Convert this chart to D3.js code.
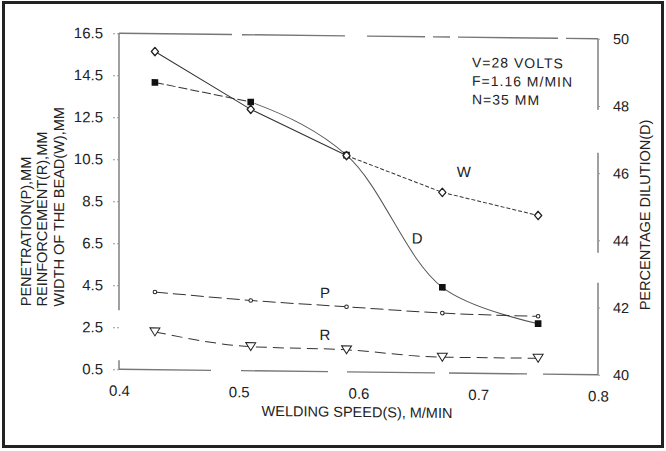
<!DOCTYPE html>
<html>
<head>
<meta charset="utf-8">
<script src="https://cdn.jsdelivr.net/npm/d3@7"></script>
<style>
  html, body { margin: 0; padding: 0; background: #fff; }
  svg { display: block; }
  text { font-family: "Liberation Sans", Arial, Helvetica, sans-serif; fill: #222; }
</style>
</head>
<body>
<svg id="chart" width="666" height="451"></svg>
<script>
// Welding speed (M/MIN) for the five test runs
const speed = [0.43, 0.51, 0.59, 0.67, 0.75];
// Bead geometry, left axis (MM)
const widthW = [15.65, 12.95, 10.8, 9.1, 8.05];
const penetrationP = [4.2, 3.85, 3.6, 3.35, 3.25];
const reinforcementR = [2.3, 1.65, 1.55, 1.25, 1.25];
// Percentage dilution, right axis
const dilutionD = [48.55, 48.0, 46.45, 42.55, 41.5];

const xTicks = [0.4, 0.5, 0.6, 0.7, 0.8];
const leftTicks = [0.5, 2.5, 4.5, 6.5, 8.5, 10.5, 12.5, 14.5, 16.5];
const rightTicks = [40, 42, 44, 46, 48, 50];
const notes = ["V=28 VOLTS", "F=1.16 M/MIN", "N=35 MM"];

const svg = d3.select("#chart");
const W = 666, H = 451;
const plot = { left: 119, right: 598, top: 36, bottom: 372 };

svg.append("rect").attr("width", W).attr("height", H).attr("fill", "#fff");
// outer figure border
svg.append("rect").attr("x", 3.5).attr("y", 2.5).attr("width", 659).attr("height", 444)
  .attr("fill", "none").attr("stroke", "#222").attr("stroke-width", 3);

const x = d3.scaleLinear().domain([0.4, 0.8]).range([plot.left, plot.right]);
const yL = d3.scaleLinear().domain([0.5, 16.5]).range([plot.bottom, plot.top]);
const yR = d3.scaleLinear().domain([40, 50]).range([plot.bottom, plot.top]);

// whole chart sits very slightly tilted on the page
const cx = 358, cy = 204;
const g = svg.append("g")
  .attr("transform", `translate(${cx},${cy}) skewY(0.65) translate(${-cx},${-cy})`);

// frame: broken grey rule segments
const frame = g.append("g").attr("stroke", "#777").attr("stroke-width", 1.4).attr("fill", "none");
const topSegs = [[119, 232], [242, 345], [367, 425], [433, 450], [458, 558], [566, 598]];
const botSegs = [[119, 211], [241, 328], [347, 435], [449, 527], [543, 598]];
const leftSegs = [[36, 313], [363, 372]];
const rightSegs = [[36, 107], [150, 250], [280, 372]];
topSegs.forEach(s => frame.append("line").attr("x1", s[0]).attr("x2", s[1]).attr("y1", plot.top).attr("y2", plot.top));
botSegs.forEach(s => frame.append("line").attr("x1", s[0]).attr("x2", s[1]).attr("y1", plot.bottom).attr("y2", plot.bottom));
leftSegs.forEach(s => frame.append("line").attr("x1", plot.left).attr("x2", plot.left).attr("y1", s[0]).attr("y2", s[1]));
rightSegs.forEach(s => frame.append("line").attr("x1", plot.right).attr("x2", plot.right).attr("y1", s[0]).attr("y2", s[1]));

// axes (labels only, faint tick marks)
const axL = g.append("g").attr("transform", `translate(${plot.left},0)`)
  .call(d3.axisLeft(yL).tickValues(leftTicks).tickFormat(d3.format(".1f")).tickSize(6).tickPadding(10));
const axR = g.append("g").attr("transform", `translate(${plot.right},0)`)
  .call(d3.axisRight(yR).tickValues(rightTicks).tickFormat(d3.format("d")).tickSize(4).tickPadding(11));
const axB = g.append("g").attr("transform", `translate(0,${plot.bottom})`)
  .call(d3.axisBottom(x).tickValues(xTicks).tickFormat(d3.format(".1f")).tickSize(0).tickPadding(16));
[axL, axR, axB].forEach(a => {
  a.select(".domain").remove();
  a.selectAll(".tick line").attr("stroke", "#999").attr("stroke-dasharray", "2,2");
  a.selectAll("text").style("font-size", "15px").attr("fill", "#222");
});
axR.selectAll("text").style("font-size", "14.5px");
axB.selectAll(".tick line").remove();

// axis titles
g.append("text").attr("x", 357).attr("y", 417).attr("text-anchor", "middle")
  .style("font-size", "14.5px").text("WELDING SPEED(S), M/MIN");
const yTitles = ["PENETRATION(P),MM", "REINFORCEMENT(R),MM", "WIDTH OF THE BEAD(W),MM"];
const yTitleX = [31, 47, 64];
yTitles.forEach((t, i) => {
  g.append("text").attr("transform", `translate(${yTitleX[i]},310) rotate(-90)`)
    .style("font-size", "14.5px").text(t);
});
g.append("text").attr("transform", "translate(650,307) rotate(-90)")
  .style("font-size", "14.5px").text("PERCENTAGE DILUTION(D)");

// operating conditions
notes.forEach((t, i) => {
  g.append("text").attr("x", 472).attr("y", 66 + i * 18.5)
    .style("font-size", "14px").style("letter-spacing", "1px").text(t);
});

// series
const lineStroke = "#333";
function pts(vals, yScale) { return speed.map((s, i) => [x(s), yScale(vals[i])]); }
const straight = d3.line();
const smooth = d3.line().curve(d3.curveCatmullRom.alpha(0.5));
const gentle = d3.line().curve(d3.curveMonotoneX);

const pW = pts(widthW, yL), pD = pts(dilutionD, yR), pP = pts(penetrationP, yL), pR = pts(reinforcementR, yL);

// W: solid to the third run, then fine dashes
g.append("path").attr("d", straight(pW.slice(0, 3))).attr("fill", "none")
  .attr("stroke", lineStroke).attr("stroke-width", 1);
g.append("path").attr("d", straight(pW.slice(2))).attr("fill", "none")
  .attr("stroke", lineStroke).attr("stroke-width", 1).attr("stroke-dasharray", "4,2");
// D: smooth curve, dashed lead-in
g.append("path").attr("d", smooth(pD.slice(0, 2))).attr("fill", "none")
  .attr("stroke", lineStroke).attr("stroke-width", 1).attr("stroke-dasharray", "9,3");
g.append("path").attr("d", smooth(pD)).attr("fill", "none")
  .attr("stroke", "#555").attr("stroke-width", 1)
  .attr("stroke-dasharray", `0,${pD[1][0] - pD[0][0] + 6},2000`);
// P and R: long dashes
g.append("path").attr("d", gentle(pP)).attr("fill", "none")
  .attr("stroke", lineStroke).attr("stroke-width", 1).attr("stroke-dasharray", "13,5");
g.append("path").attr("d", gentle(pR)).attr("fill", "none")
  .attr("stroke", lineStroke).attr("stroke-width", 1).attr("stroke-dasharray", "11,6");

// markers (D squares first so open W diamonds sit on top)
g.selectAll(".mD").data(pD).join("path").attr("class", "mD")
  .attr("transform", d => `translate(${d[0]},${d[1]})`)
  .attr("d", d3.symbol(d3.symbolSquare, 44))
  .attr("fill", "#111");
g.selectAll(".mW").data(pW).join("path").attr("class", "mW")
  .attr("transform", d => `translate(${d[0]},${d[1]})`)
  .attr("d", "M0,-4.2L3.6,0L0,4.2L-3.6,0Z")
  .attr("fill", "#fff").attr("stroke", "#222").attr("stroke-width", 1.3)
  .attr("stroke-linejoin", "round");
g.selectAll(".mP").data(pP).join("circle").attr("class", "mP")
  .attr("cx", d => d[0]).attr("cy", d => d[1]).attr("r", 1.8)
  .attr("fill", "#fff").attr("stroke", "#222").attr("stroke-width", 1);
g.selectAll(".mR").data(pR).join("path").attr("class", "mR")
  .attr("transform", d => `translate(${d[0]},${d[1]})`)
  .attr("d", "M-5,-4L5,-4L0,4Z")
  .attr("fill", "#fff").attr("stroke", "#222").attr("stroke-width", 1);

// series letters
const tags = [
  { t: "W", s: 0.688, v: 10.1, y: yL },
  { t: "D", s: 0.649, v: 44.0, y: yR },
  { t: "P", s: 0.572, v: 4.26, y: yL },
  { t: "R", s: 0.572, v: 2.26, y: yL }
];
tags.forEach(d => {
  g.append("text").attr("x", x(d.s)).attr("y", d.y(d.v)).attr("dy", "0.36em")
    .attr("text-anchor", "middle").style("font-size", "15px").text(d.t);
});
</script>
</body>
</html>
